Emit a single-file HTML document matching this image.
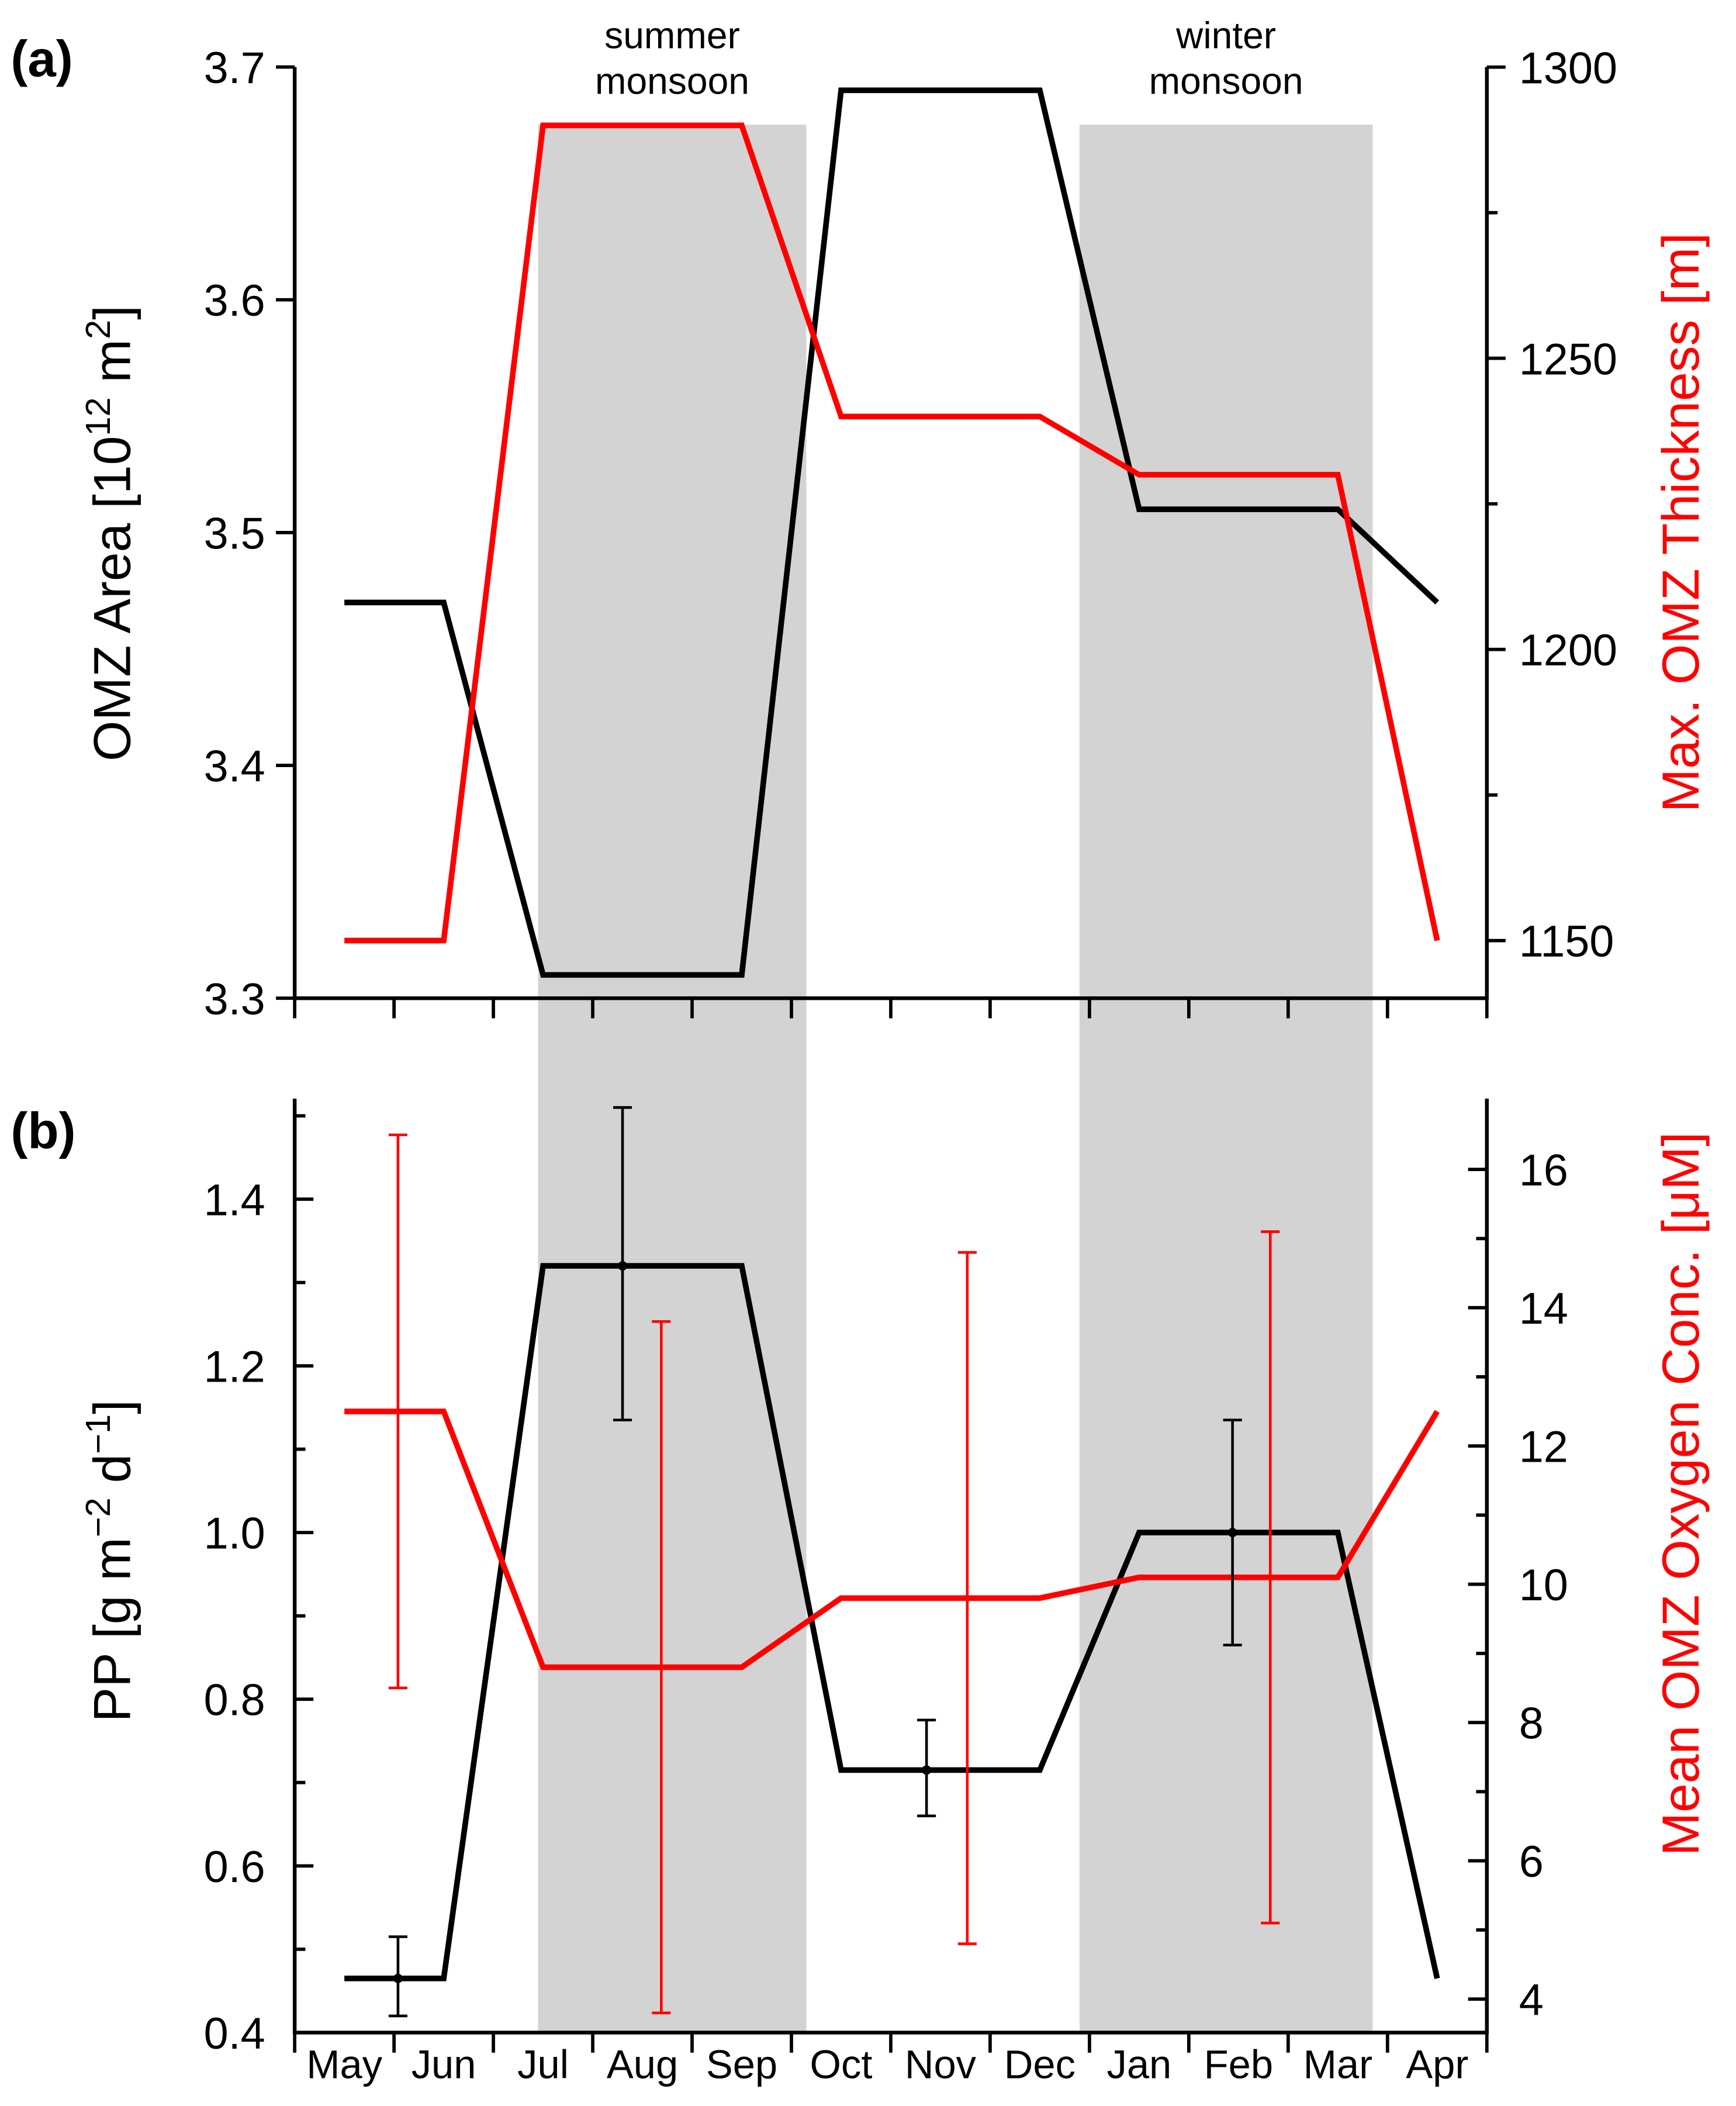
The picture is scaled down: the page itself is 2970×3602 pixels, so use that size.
<!DOCTYPE html>
<html><head><meta charset="utf-8"><style>html,body{margin:0;padding:0;background:#fff}svg{display:block}text{font-family:"Liberation Sans",Arial,sans-serif}</style></head>
<body>
<svg id="chart" width="2970" height="3602" viewBox="0 0 1296 1571.8" preserveAspectRatio="none" xmlns="http://www.w3.org/2000/svg">
<g id="shade"></g>
<g id="axes"></g>
<g id="series"></g>
<g id="labels"></g>
</svg>
<script>
const months = ["May","Jun","Jul","Aug","Sep","Oct","Nov","Dec","Jan","Feb","Mar","Apr"];
const omzArea = [3.47,3.47,3.31,3.31,3.31,3.69,3.69,3.69,3.51,3.51,3.51,3.47];
const omzThickness = [1150,1150,1290,1290,1290,1240,1240,1240,1230,1230,1230,1150];
const pp = [0.465,0.465,1.32,1.32,1.32,0.715,0.715,0.715,1.0,1.0,1.0,0.465];
const oxygen = [12.5,12.5,8.8,8.8,8.8,9.8,9.8,9.8,10.1,10.1,10.1,12.5];
const ppErrPos = [1.04,3.30,6.36,9.44];
const ppErrMid = [0.465,1.32,0.715,1.0];
const ppErrLow = [0.42,1.135,0.66,0.865];
const ppErrHigh = [0.515,1.51,0.775,1.135];
const oxErrPos = [1.04,3.69,6.77,9.82];
const oxErrLow = [8.5,3.8,4.8,5.1];
const oxErrHigh = [16.5,13.8,14.8,15.1];
const seasons = [{name:"summer", start:2.45, end:5.15, lines:["summer","monsoon"]},{name:"winter", start:7.9, end:10.85, lines:["winter","monsoon"]}];
const areaTicks = [3.3,3.4,3.5,3.6,3.7];
const thickTicks = [1150,1200,1250,1300];
const thickMinor = [1175,1225,1275];
const ppTicks = [0.4,0.6,0.8,1.0,1.2,1.4];
const ppMinor = [0.5,0.7,0.9,1.1,1.3,1.5];
const oxTicks = [4,6,8,10,12,14,16];
const oxMinor = [5,7,9,11,13,15];

const NS="http://www.w3.org/2000/svg";
const X0=220, X1=1110, MW=(X1-X0)/12;
const xm = m => X0 + MW*m;
const xc = i => xm(i+0.5);
const yA = v => 745 - (v-3.3)/0.4*695;
const yT = v => 702 - (v-1150)/50*217.3;
const yP = v => 1517 - (v-0.4)/0.2*124.4;
const yO = v => 1492 - (v-4)/2*103.2;
function el(tag, attrs, parent, text){const e=document.createElementNS(NS,tag);for(const k in attrs)e.setAttribute(k,attrs[k]);if(text!==undefined)e.textContent=text;document.getElementById(parent).appendChild(e);return e;}

seasons.forEach(s=>{
  const r=el('rect',{x:xm(s.start),y:93,width:xm(s.end)-xm(s.start),height:1517-93,fill:'#d3d3d3'},'shade');
  
  
  s.lines.forEach((t,j)=>{
    const tx=el('text',{x:(xm(s.start)+xm(s.end))/2,y:36+j*34,'font-size':28,'text-anchor':'middle',fill:'#000'},'labels',t);
    
    
  });
});

function line(x1,y1,x2,y2,w,c,name){const l=el('line',{x1,y1,x2,y2,stroke:c||'#000','stroke-width':w||2.8},'axes');return l;}
line(X0,50,X0,746,2.8,'#000','panel-a-left-axis');
line(X1,50,X1,746,2.8,'#000','panel-a-right-axis');
line(X0-1,745,X1+1,745,2.8,'#000','panel-a-x-axis');
areaTicks.forEach(v=>{line(X0-14,yA(v),X0,yA(v),2.5,'#000','area-tick');
  const t=el('text',{x:X0-22,y:yA(v)+12,'font-size':33,'text-anchor':'end'},'labels',v.toFixed(1));});
thickTicks.forEach(v=>{line(X1,yT(v),X1+14,yT(v),2.5,'#000','thickness-tick');
  const t=el('text',{x:X1+24,y:yT(v)+12,'font-size':33},'labels',String(v));});
thickMinor.forEach(v=>line(X1,yT(v),X1+8,yT(v),2.5,'#000','thickness-minor-tick'));
for(let k=0;k<=12;k++) line(xm(k),745,xm(k),760,2.5,'#000','panel-a-x-tick');
line(X0,820,X0,1518,2.8,'#000','panel-b-left-axis');
line(X1,820,X1,1518,2.8,'#000','panel-b-right-axis');
line(X0-1,1517,X1+1,1517,2.8,'#000','panel-b-x-axis');
ppTicks.forEach(v=>{line(X0,yP(v),X0+14,yP(v),2.5,'#000','pp-tick');
  const t=el('text',{x:X0-22,y:yP(v)+12,'font-size':33,'text-anchor':'end'},'labels',v.toFixed(1));});
ppMinor.forEach(v=>line(X0,yP(v),X0+8,yP(v),2.5,'#000','pp-minor-tick'));
oxTicks.forEach(v=>{line(X1-14,yO(v),X1,yO(v),2.5,'#000','oxygen-tick');
  const t=el('text',{x:X1+24,y:yO(v)+12,'font-size':33},'labels',String(v));});
oxMinor.forEach(v=>line(X1-8,yO(v),X1,yO(v),2.5,'#000','oxygen-minor-tick'));
for(let k=0;k<=12;k++) line(xm(k),1517,xm(k),1532,2.5,'#000','panel-b-x-tick');
months.forEach((m,i)=>{const t=el('text',{x:xc(i),y:1551,'font-size':30,'text-anchor':'middle'},'labels',m);});

function poly(vals,yf,color,name){const p=el('polyline',{points:vals.map((v,i)=>xc(i)+','+yf(v)).join(' '),fill:'none',stroke:color,'stroke-width':4.2,'stroke-linejoin':'miter'},'series');}
poly(omzArea,yA,'#000','omz-area-line');
poly(omzThickness,yT,'#ff0000','omz-thickness-line');
poly(pp,yP,'#000','pp-line');
poly(oxygen,yO,'#ff0000','oxygen-line');
function errbar(x,lo,hi,color,name){const g=document.createElementNS(NS,'g');
  [[x,lo,x,hi],[x-7,lo,x+7,lo],[x-7,hi,x+7,hi]].forEach(c=>{const l=document.createElementNS(NS,'line');l.setAttribute('x1',c[0]);l.setAttribute('y1',c[1]);l.setAttribute('x2',c[2]);l.setAttribute('y2',c[3]);l.setAttribute('stroke',color);l.setAttribute('stroke-width',2);g.appendChild(l);});
  document.getElementById('series').appendChild(g);}
ppErrPos.forEach((m,i)=>{errbar(xm(m),yP(ppErrLow[i]),yP(ppErrHigh[i]),'#000','pp-error-bar');
  const c=el('circle',{cx:xm(m),cy:yP(ppErrMid[i]),r:3.5,fill:'#000'},'series');});
oxErrPos.forEach((m,i)=>errbar(xm(m),yO(oxErrLow[i]),yO(oxErrHigh[i]),'#ff0000','oxygen-error-bar'));

function title(x,y,color,html,name,size){const t=el('text',{transform:`translate(${x},${y}) rotate(-90)`,'font-size':size||39,'text-anchor':'middle',fill:color},'labels');t.innerHTML=html;}
title(97,398,'#000','OMZ Area [10<tspan dy="-15" font-size="26">12</tspan><tspan dy="15"> m</tspan><tspan dy="-15" font-size="26">2</tspan><tspan dy="15">]</tspan>','area-axis-title');
title(1268,390,'#ff0000','Max. OMZ Thickness [m]','thickness-axis-title');
title(97,1165,'#000','PP [g m<tspan dy="-15" font-size="26">−2</tspan><tspan dy="15"> d</tspan><tspan dy="-15" font-size="26">−1</tspan><tspan dy="15">]</tspan>','pp-axis-title');
title(1268,1115,'#ff0000','Mean OMZ Oxygen Conc. [μM]','oxygen-axis-title');
const pa=el('text',{x:8,y:57,'font-size':38,'font-weight':'bold'},'labels','(a)');
const pb=el('text',{x:8,y:857,'font-size':38,'font-weight':'bold'},'labels','(b)');
</script>
</body></html>
